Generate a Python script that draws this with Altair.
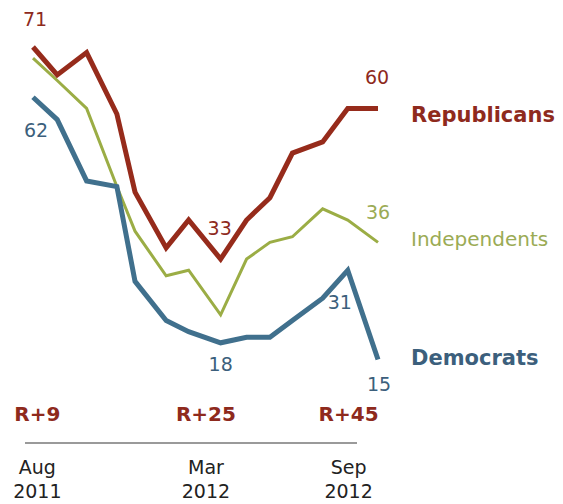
import altair as alt
import pandas as pd

# survey dates (estimated)
dates = ["2011-08-10", "2011-09-07", "2011-10-11", "2011-11-15", "2011-12-06",
         "2012-01-11", "2012-02-06", "2012-03-14", "2012-04-13", "2012-05-10",
         "2012-06-05", "2012-07-10", "2012-08-08", "2012-09-12"]
republicans = [71, 66, 70, 59, 45, 35, 40, 33, 40, 44, 52, 54, 60, 60]
independents = [69, 65, 60, 46, 38, 30, 31, 23, 33, 36, 37, 42, 40, 36]
democrats = [62, 58, 47, 46, 29, 22, 20, 18, 19, 19, 22, 26, 31, 15]

series_names = ["Republicans", "Independents", "Democrats"]
colors = ["#962b1b", "#9bad45", "#40708d"]
label_colors = ["#8e2a1d", "#9bab55", "#3c5f7c"]
line_widths = [5, 3, 5]

# value labels: (series, point index)
value_labels = [("Republicans", 0), ("Democrats", 0), ("Republicans", 7),
                ("Democrats", 7), ("Democrats", 12), ("Republicans", 13),
                ("Independents", 13), ("Democrats", 13)]

# x-axis labels and gap annotations
tick_dates = ["2011-08-15", "2012-02-26", "2012-08-09"]
tick_month = ["Aug", "Mar", "Sep"]
tick_year = ["2011", "2012", "2012"]
gap_labels = ["R+9", "R+25", "R+45"]

start = pd.Timestamp("2011-08-10")
def day(d):
    return (pd.Timestamp(d) - start).days

vals_map = {"Republicans": republicans, "Independents": independents, "Democrats": democrats}

W, H = 547, 496
px_per_day = 345 / 399
x_dom = [-25 / px_per_day, (W - 25) / px_per_day]
ppu = 5.581
y_top = 71 + 39 / ppu
y_dom = [y_top - H / ppu, y_top]

xs = alt.Scale(domain=x_dom, nice=False, zero=False)
ys = alt.Scale(domain=y_dom, nice=False, zero=False)

layers = []
# draw independents first so the thick lines sit on top
for name in ["Independents", "Democrats", "Republicans"]:
    k = series_names.index(name)
    sdf = pd.DataFrame({"day": [day(d) for d in dates], "value": vals_map[name]})
    layers.append(alt.Chart(sdf).mark_line(
        color=colors[k], strokeWidth=line_widths[k], strokeJoin="miter", strokeCap="butt"
    ).encode(
        x=alt.X("day:Q", scale=xs, axis=None),
        y=alt.Y("value:Q", scale=ys, axis=None),
    ))

offsets = {
    ("Republicans", 0): (2, -27),
    ("Democrats", 0): (3, 34),
    ("Republicans", 7): (-1, -30),
    ("Democrats", 7): (0, 22),
    ("Democrats", 12): (-8, 33),
    ("Republicans", 13): (-1, -30),
    ("Independents", 13): (0, -29),
    ("Democrats", 13): (1, 25),
}
for (s, i) in value_labels:
    dx, dy = offsets[(s, i)]
    ldf = pd.DataFrame([{"day": day(dates[i]), "value": vals_map[s][i], "text": str(vals_map[s][i])}])
    layers.append(alt.Chart(ldf).mark_text(
        font="DejaVu Sans", fontSize=19, dx=dx, dy=dy, baseline="middle",
        color=label_colors[series_names.index(s)]
    ).encode(x=alt.X("day:Q", scale=xs), y=alt.Y("value:Q", scale=ys), text="text:N"))

# series name labels at end
end_day = day(dates[-1])
name_specs = [("Republicans", "bold", 21, 8), ("Independents", "normal", 20, -2), ("Democrats", "bold", 21, -1)]
for name, weight, size, dy in name_specs:
    k = series_names.index(name)
    ndf = pd.DataFrame([{"day": end_day, "value": vals_map[name][-1], "text": name}])
    layers.append(alt.Chart(ndf).mark_text(
        font="DejaVu Sans", fontSize=size, fontWeight=weight,
        align="left", baseline="middle", dx=33, dy=dy, color=label_colors[k]
    ).encode(x=alt.X("day:Q", scale=xs), y=alt.Y("value:Q", scale=ys), text="text:N"))

tick_df = pd.DataFrame({"day": [day(d) for d in tick_dates], "month": tick_month,
                        "year": tick_year, "gap": gap_labels})

gap_text = alt.Chart(tick_df).mark_text(
    font="DejaVu Sans", fontSize=20, fontWeight="bold", color="#8e2a1d", baseline="middle"
).encode(x=alt.X("day:Q", scale=xs), y=alt.value(407), text="gap:N")

month_text = alt.Chart(tick_df).mark_text(
    font="DejaVu Sans", fontSize=19, color="#222222", baseline="middle"
).encode(x=alt.X("day:Q", scale=xs), y=alt.value(460), text="month:N")

year_text = alt.Chart(tick_df).mark_text(
    font="DejaVu Sans", fontSize=19, color="#222222", baseline="middle"
).encode(x=alt.X("day:Q", scale=xs), y=alt.value(484), text="year:N")

axis_rule = alt.Chart(tick_df).mark_rule(color="#9a9a9a", strokeWidth=2).encode(
    x=alt.value(17), x2=alt.value(349), y=alt.value(435)
)

layers += [gap_text, month_text, year_text, axis_rule]

chart = alt.layer(*layers).properties(
    width=W, height=H, padding=0, background="white",
    autosize=alt.AutoSizeParams(type="none")
).configure_view(stroke=None, clip=False)

chart.save("out.html", embed_options={"renderer": "svg", "actions": False})
